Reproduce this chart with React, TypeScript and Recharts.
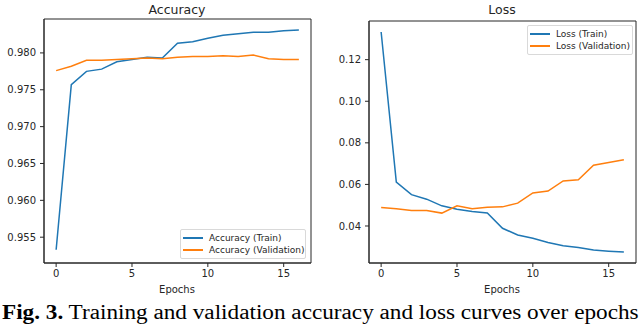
import { LineChart, Line, XAxis, YAxis, ReferenceArea } from "recharts";

const epochs = [0, 1, 2, 3, 4, 5, 6, 7, 8, 9, 10, 11, 12, 13, 14, 15, 16];

const accTrain = [
  0.9533, 0.9757, 0.9775, 0.9778, 0.9788, 0.9791, 0.9794, 0.9793, 0.9813,
  0.9815, 0.982, 0.9824, 0.9826, 0.9828, 0.9828, 0.983, 0.9831,
];
const accVal = [
  0.9776, 0.9782, 0.979, 0.979, 0.9791, 0.9792, 0.9793, 0.9792, 0.9794,
  0.9795, 0.9795, 0.9796, 0.9795, 0.9797, 0.9792, 0.9791, 0.9791,
];
const lossTrain = [
  0.1333, 0.0611, 0.0551, 0.0529, 0.0497, 0.0481, 0.047, 0.0463, 0.0389,
  0.0357, 0.0341, 0.0321, 0.0305, 0.0297, 0.0284, 0.0279, 0.0275,
];
const lossVal = [
  0.0489, 0.0483, 0.0475, 0.0475, 0.0462, 0.0497, 0.0483, 0.049, 0.0492,
  0.051, 0.0559, 0.0568, 0.0617, 0.0622, 0.0692, 0.0705, 0.0719,
];

const xTicks = [0, 5, 10, 15];
const accTicks = [0.955, 0.96, 0.965, 0.97, 0.975, 0.98];
const lossTicks = [0.04, 0.06, 0.08, 0.1, 0.12];

const BLUE = "#1f77b4";
const ORANGE = "#ff7f0e";
const INK = "#262626";
const FONT = "'DejaVu Sans', sans-serif";

const accData = epochs.map((e, i) => ({ epoch: e, train: accTrain[i], val: accVal[i] }));
const lossData = epochs.map((e, i) => ({ epoch: e, train: lossTrain[i], val: lossVal[i] }));

const tickStyle = { fontSize: 10, fill: INK, fontFamily: FONT };

function Panel({
  left,
  data,
  domain,
  yTicks,
  digits,
  margin,
}: {
  left: number;
  data: { epoch: number; train: number; val: number }[];
  domain: [number, number];
  yTicks: number[];
  digits: number;
  margin: { top: number; right: number; bottom: number; left: number };
}) {
  return (
    <div style={{ position: "absolute", left, top: 0 }}>
      <LineChart width={320} height={324} data={data} margin={margin}>
        <XAxis
          dataKey="epoch"
          type="number"
          domain={[-0.8, 16.8]}
          ticks={xTicks}
          allowDataOverflow
          height={30}
          tickSize={4}
          tickMargin={3}
          tick={tickStyle}
          stroke={INK}
        />
        <YAxis
          type="number"
          domain={domain}
          ticks={yTicks}
          allowDataOverflow
          width={40}
          tickSize={4}
          tickMargin={4}
          tick={tickStyle}
          stroke={INK}
          tickFormatter={(v: number) => v.toFixed(digits)}
        />
        <ReferenceArea
          x1={-0.8}
          x2={16.8}
          y1={domain[0]}
          y2={domain[1]}
          fill="none"
          stroke={INK}
          strokeWidth={1}
        />
        <Line
          dataKey="train"
          stroke={BLUE}
          strokeWidth={1.5}
          dot={false}
          isAnimationActive={false}
        />
        <Line
          dataKey="val"
          stroke={ORANGE}
          strokeWidth={1.5}
          dot={false}
          isAnimationActive={false}
        />
      </LineChart>
    </div>
  );
}

function LegendBox({
  left,
  top,
  width,
  labels,
}: {
  left: number;
  top: number;
  width: number;
  labels: string[];
}) {
  return (
    <div
      style={{
        position: "absolute",
        left,
        top,
        width,
        border: "1px solid #d9d9d9",
        borderRadius: 2,
        background: "rgba(255,255,255,0.85)",
        padding: "2px 0",
        fontFamily: FONT,
        fontSize: 9,
        color: INK,
        boxSizing: "border-box",
      }}
    >
      {labels.map((l, i) => (
        <div key={l} style={{ display: "flex", alignItems: "center", height: 12 }}>
          <span
            style={{
              display: "inline-block",
              width: 20,
              height: 2,
              marginLeft: 2,
              marginRight: 6,
              background: i === 0 ? BLUE : ORANGE,
            }}
          />
          {l}
        </div>
      ))}
    </div>
  );
}

function Txt({
  x,
  y,
  size,
  children,
}: {
  x: number;
  y: number;
  size: number;
  children: string;
}) {
  return (
    <div
      style={{
        position: "absolute",
        left: x - 100,
        top: y - size * 0.6,
        width: 200,
        textAlign: "center",
        fontFamily: FONT,
        fontSize: size,
        lineHeight: 1.2,
        color: INK,
      }}
    >
      {children}
    </div>
  );
}

export default function App() {
  return (
    <div
      style={{
        position: "absolute",
        left: 0,
        top: 0,
        width: 640,
        height: 324,
        background: "#fff",
        overflow: "hidden",
      }}
    >
      <Panel
        left={0}
        data={accData}
        domain={[0.9515, 0.9846]}
        yTicks={accTicks}
        digits={3}
        margin={{ top: 19, right: 9, bottom: 31, left: 4 }}
      />
      <Panel
        left={320}
        data={lossData}
        domain={[0.0222, 0.1386]}
        yTicks={lossTicks}
        digits={2}
        margin={{ top: 21, right: 4, bottom: 31, left: 9 }}
      />
      <Txt x={177} y={9} size={12.5}>Accuracy</Txt>
      <Txt x={502} y={9} size={12.5}>Loss</Txt>
      <Txt x={177} y={290} size={10}>Epochs</Txt>
      <Txt x={502} y={290} size={10}>Epochs</Txt>
      <LegendBox
        left={180}
        top={229}
        width={126}
        labels={["Accuracy (Train)", "Accuracy (Validation)"]}
      />
      <LegendBox
        left={527}
        top={25}
        width={106}
        labels={["Loss (Train)", "Loss (Validation)"]}
      />
      <div
        style={{
          position: "absolute",
          left: 2,
          top: 300,
          fontFamily: "'Liberation Serif', serif",
          fontSize: 20,
          lineHeight: "24px",
          whiteSpace: "nowrap",
          color: "#000",
          transform: "scaleX(1.16)",
          transformOrigin: "0 0",
        }}
      >
        <b>Fig. 3.</b> Training and validation accuracy and loss curves over epochs
      </div>
    </div>
  );
}
